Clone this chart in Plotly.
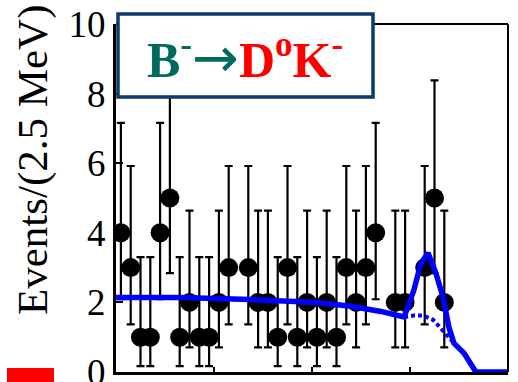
import plotly.graph_objects as go

# ---------------- data ----------------
mbc_start = 5.200      # GeV, left edge of first bin
bin_width = 0.0025     # GeV (2.5 MeV)
counts = [4, 3, 1, 1, 4, 5, 1, 2, 1, 1,
          2, 3, 0, 3, 2, 2, 1, 3, 1, 2,
          1, 2, 1, 3, 2, 3, 4, 0, 2, 2,
          0, 3, 5, 2, 0, 0, 0, 0, 0, 0]
poisson_lo = [0.00, 0.17, 0.71, 1.37, 2.09, 2.84]
poisson_hi = [1.29, 3.30, 4.64, 5.92, 7.16, 8.38]

# total fit (solid) and background component (dashed)
fit_x = [5.2000, 5.2166, 5.2344, 5.2515, 5.2599, 5.2676, 5.2735, 5.2760,
         5.2778, 5.2796, 5.2816, 5.2834, 5.2849, 5.2862, 5.2888, 5.2911,
         5.2918, 5.3000]
fit_y = [2.14, 2.14, 2.08, 2.00, 1.89, 1.74, 1.58, 2.36,
         3.13, 3.42, 2.84, 2.16, 1.30, 0.83, 0.54, 0.15,
         0.00, 0.00]
bkg_x = [5.2735, 5.2758, 5.2783, 5.2809, 5.2829, 5.2847, 5.2862]
bkg_y = [1.58, 1.62, 1.62, 1.50, 1.25, 1.00, 0.83]

y_ticks = [0, 2, 4, 6, 8, 10]
x_ticks = [5.225, 5.250, 5.275]

# ---------------- figure ----------------
xs, ys, ep, em = [], [], [], []
for i, n in enumerate(counts):
    if n > 0:
        xs.append(mbc_start + bin_width * (i + 0.5))
        ys.append(n)
        ep.append(poisson_hi[n] - n)
        em.append(n - poisson_lo[n])

FONT = "Liberation Serif"
fig = go.Figure()
fig.add_trace(go.Scatter(
    x=xs, y=ys, mode="markers",
    marker=dict(color="black", size=19),
    error_y=dict(type="data", symmetric=False, array=ep, arrayminus=em,
                 color="black", thickness=2.2, width=4),
    showlegend=False))
fig.add_trace(go.Scatter(
    x=bkg_x, y=bkg_y, mode="lines",
    line=dict(color="#0000ff", width=4, dash="4px,3px"),
    showlegend=False))
fig.add_trace(go.Scatter(
    x=fit_x, y=fit_y, mode="lines",
    line=dict(color="#0000ff", width=5.5),
    showlegend=False))

L, R, T, B = 116, 10, 24, 10
W, H = 518, 382
pw, ph = W - L - R, H - T - B

def px(xp):
    return (xp - L) / pw

def py(yp):
    return (H - B - yp) / ph

fig.update_layout(
    width=W, height=H,
    margin=dict(l=L, r=R, t=T, b=B, autoexpand=False),
    paper_bgcolor="white", plot_bgcolor="white",
    font=dict(family=FONT, color="black"),
    xaxis=dict(range=[5.2, 5.3], tickvals=x_ticks, showticklabels=False,
               ticks="inside", ticklen=5, tickwidth=2, tickcolor="black",
               showline=True, linecolor="black", linewidth=3,
               automargin=False,
               showgrid=False, zeroline=False),
    yaxis=dict(range=[0, 10], tickvals=y_ticks,
               ticks="inside", ticklen=7, tickwidth=2, tickcolor="black",
               showline=True, linecolor="black", linewidth=3,
               ticklabeloverflow="allow", automargin=False,
               tickfont=dict(family=FONT, size=37, color="black"),
               showgrid=False, zeroline=False),
    shapes=[
        # top / right frame
        dict(type="line", xref="paper", yref="paper", x0=0, x1=1, y0=1, y1=1,
             line=dict(color="black", width=2)),
        dict(type="line", xref="paper", yref="paper", x0=1, x1=1, y0=0, y1=1,
             line=dict(color="black", width=2)),
        # label box
        dict(type="rect", xref="paper", yref="paper",
             x0=px(118), x1=px(373), y0=py(97), y1=py(14),
             fillcolor="white", line=dict(color="#0d3a6b", width=3.5),
             layer="above"),
        # red bar at lower left
        dict(type="rect", xref="paper", yref="paper",
             x0=px(7), x1=px(54), y0=py(382), y1=py(368),
             fillcolor="#ff0000", line=dict(width=0), layer="above"),
    ],
    annotations=[
        dict(xref="paper", yref="paper", x=px(245), y=py(57),
             xanchor="center", yanchor="middle", showarrow=False,
             text="<b><span style='color:#006a5e'>B<sup>-</sup></span></b>"
                  "<span style='color:#006a5e;font-family:DejaVu Sans;font-size:56px'>→</span>"
                  "<b><span style='color:#ff0000'>D<sup>o</sup>K<sup>-</sup></span></b>",
             font=dict(family=FONT, size=50)),
        dict(xref="paper", yref="paper", x=px(33), y=py(160),
             xanchor="center", yanchor="middle", showarrow=False,
             textangle=-90, text="Events/(2.5 MeV)",
             font=dict(family=FONT, size=43, color="black")),
    ],
)

fig.write_html("out.html")
